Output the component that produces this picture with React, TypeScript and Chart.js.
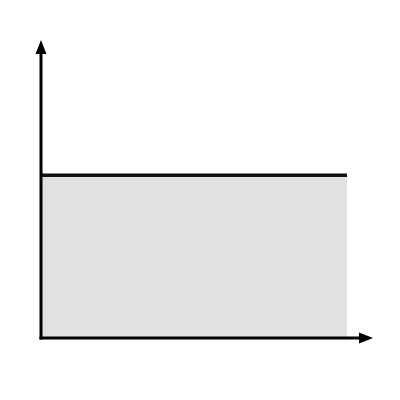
import React, { useEffect, useRef } from "react";
import { Chart, registerables } from "chart.js";

Chart.register(...registerables);

const xValues = [0, 1];
const yValues = [1, 1];
const xMax = 1.085;
const yMax = 1.83;

const axisArrows = {
  id: "axisArrows",
  afterDraw(chart: any) {
    const { ctx, chartArea } = chart;
    const { left, right, top, bottom } = chartArea;
    ctx.save();
    ctx.strokeStyle = "#000";
    ctx.fillStyle = "#000";
    ctx.lineWidth = 3;
    ctx.lineCap = "butt";
    // y axis
    ctx.beginPath();
    ctx.moveTo(left, bottom + 1.5);
    ctx.lineTo(left, top + 8);
    ctx.stroke();
    ctx.beginPath();
    ctx.moveTo(left, top);
    ctx.lineTo(left - 5.5, top + 14);
    ctx.lineTo(left + 5.5, top + 14);
    ctx.closePath();
    ctx.fill();
    // x axis
    ctx.beginPath();
    ctx.moveTo(left - 1.5, bottom);
    ctx.lineTo(right - 8, bottom);
    ctx.stroke();
    ctx.beginPath();
    ctx.moveTo(right, bottom);
    ctx.lineTo(right - 14, bottom - 5.5);
    ctx.lineTo(right - 14, bottom + 5.5);
    ctx.closePath();
    ctx.fill();
    ctx.restore();
  },
};

export default function App() {
  const ref = useRef<HTMLCanvasElement>(null);
  useEffect(() => {
    if (!ref.current) return;
    const chart = new Chart(ref.current, {
      type: "line",
      data: {
        datasets: [
          {
            data: xValues.map((x, i) => ({ x, y: yValues[i] })),
            borderColor: "#111",
            borderWidth: 3.5,
            backgroundColor: "#e1e1e1",
            fill: "origin",
            pointRadius: 0,
            tension: 0,
          },
        ],
      },
      options: {
        animation: false,
        responsive: false,
        layout: { padding: { left: 41, top: 40, right: 27, bottom: 62 } },
        plugins: { legend: { display: false }, tooltip: { enabled: false } },
        scales: {
          x: { type: "linear", min: 0, max: xMax, display: false },
          y: { type: "linear", min: 0, max: yMax, display: false },
        },
      },
      plugins: [axisArrows],
    });
    return () => chart.destroy();
  }, []);
  return (
    <div style={{ position: "fixed", left: 0, top: 0, width: 400, height: 400, background: "#fff" }}>
      <canvas ref={ref} width={400} height={400} style={{ width: 400, height: 400 }} />
    </div>
  );
}
